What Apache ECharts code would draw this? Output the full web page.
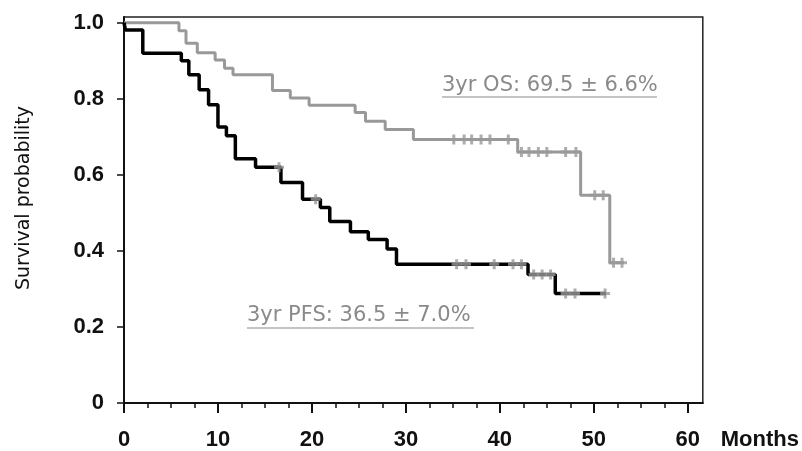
<!DOCTYPE html>
<html>
<head>
<meta charset="utf-8">
<script src="https://cdn.jsdelivr.net/npm/echarts@6/dist/echarts.min.js"></script>
<style>
  html, body { margin: 0; padding: 0; background: #fff; }
  #chart { width: 802px; height: 451px; }
</style>
</head>
<body>
<div id="chart"></div>
<script>
// overall survival (step curve, value holds until next time)
const osTime = [0, 5.85, 6.6, 7.8, 9.7, 10.7, 11.6, 15.8, 17.7, 19.7, 24.6, 25.7, 27.8, 30.8, 41.9, 48.6, 51.7, 53.2];
const osSurv = [1.0, 0.979, 0.946, 0.921, 0.902, 0.880, 0.863, 0.822, 0.802, 0.783, 0.764, 0.741, 0.719, 0.693, 0.660, 0.546, 0.369, 0.369];
const osCensorTime = [35.1, 36.2, 37.0, 38.0, 38.95, 40.9, 42.3, 43.1, 44.1, 45.0, 47.0, 48.1, 50.1, 51.0, 52.1, 53.0];
const osCensorSurv = [0.693, 0.693, 0.693, 0.693, 0.693, 0.693, 0.660, 0.660, 0.660, 0.660, 0.660, 0.660, 0.546, 0.546, 0.369, 0.369];

// progression-free survival
const pfsTime = [0, 0.15, 2.0, 6.1, 6.9, 8.0, 9.0, 10.0, 10.9, 11.85, 14.0, 16.7, 19.0, 20.9, 21.9, 24.1, 26.0, 28.0, 29.0, 43.0, 45.9, 51.3];
const pfsSurv = [1.0, 0.981, 0.920, 0.900, 0.863, 0.824, 0.784, 0.726, 0.703, 0.642, 0.620, 0.580, 0.536, 0.514, 0.477, 0.450, 0.430, 0.405, 0.365, 0.338, 0.288, 0.288];
const pfsCensorTime = [16.5, 20.4, 35.4, 36.4, 39.4, 41.4, 42.3, 43.6, 44.5, 45.4, 47.0, 48.0, 51.2];
const pfsCensorSurv = [0.620, 0.536, 0.365, 0.365, 0.365, 0.365, 0.365, 0.338, 0.338, 0.338, 0.288, 0.288, 0.288];

const xMajorTicks = [0, 10, 20, 30, 40, 50, 60];
const xMinorTicks = [2.5, 5, 7.5, 12.5, 15, 17.5, 22.5, 25, 27.5, 32.5, 35, 37.5, 42.5, 45, 47.5, 52.5, 55, 57.5];
const yTicks = [0, 0.2, 0.4, 0.6, 0.8, 1.0];

const osNote = "3yr OS: 69.5 ± 6.6%";
const pfsNote = "3yr PFS: 36.5 ± 7.0%";

const zip = (a, b) => a.map((v, i) => [v, b[i]]);

const labelFont = "'Liberation Sans', Arial, sans-serif";
const noteFont = "'DejaVu Sans', sans-serif";
// censor mark: small plus
const plusPath = "path://M3.5,0 H6.5 V3.5 H10 V6.5 H6.5 V10 H3.5 V6.5 H0 V3.5 H3.5 Z";

const chart = echarts.init(document.getElementById("chart"), null, { renderer: "canvas" });

const option = {
  backgroundColor: "#fff",
  animation: false,
  grid: {
    left: 124,
    right: 96,
    top: 17,
    bottom: 47,
    show: true,
    borderColor: "#222",
    borderWidth: 1.5,
    backgroundColor: "transparent",
  },
  xAxis: [
    {
      type: "value",
      min: 0,
      max: 61.6,
      name: "Months",
      nameLocation: "end",
      nameGap: 18,
      nameTextStyle: {
        fontFamily: labelFont,
        fontWeight: "bold",
        fontSize: 22,
        color: "#111",
        verticalAlign: "top",
        padding: [26, 0, 0, 0],
      },
      splitLine: { show: false },
      axisLine: { show: true, lineStyle: { color: "#111", width: 2 } },
      axisTick: { show: true, length: 10, customValues: xMajorTicks, lineStyle: { color: "#111", width: 2 } },
      axisLabel: {
        customValues: xMajorTicks,
        margin: 26,
        fontFamily: labelFont,
        fontWeight: "bold",
        fontSize: 22,
        color: "#111",
      },
    },
    {
      type: "value",
      min: 0,
      max: 61.6,
      position: "bottom",
      splitLine: { show: false },
      axisLine: { show: false },
      axisTick: { show: true, length: 5, customValues: xMinorTicks, lineStyle: { color: "#111", width: 1.5 } },
      axisLabel: { show: false },
    },
  ],
  yAxis: {
    type: "value",
    min: 0,
    max: 1.015,
    name: "Survival probability",
    nameLocation: "middle",
    nameGap: 90,
    nameTextStyle: {
      fontFamily: noteFont,
      fontSize: 19,
      color: "#111",
      padding: [0, 0, 0, 24],
    },
    splitLine: { show: false },
    axisLine: { show: true, lineStyle: { color: "#111", width: 2 } },
    axisTick: { show: true, length: 7, customValues: yTicks, lineStyle: { color: "#111", width: 1.5 } },
    axisLabel: {
      customValues: yTicks,
      margin: 20,
      fontFamily: labelFont,
      fontWeight: "bold",
      fontSize: 22,
      color: "#111",
      formatter: (v) => (v === 0 ? "0" : v.toFixed(1)),
    },
  },
  series: [
    {
      name: "OS",
      type: "line",
      step: "end",
      data: zip(osTime, osSurv),
      symbol: "none",
      lineStyle: { color: "#999", width: 3 },
      z: 2,
    },
    {
      name: "PFS",
      type: "line",
      step: "end",
      data: zip(pfsTime, pfsSurv),
      symbol: "none",
      lineStyle: { color: "#000", width: 3.5 },
      z: 3,
    },
    {
      name: "OS censored",
      type: "scatter",
      data: zip(osCensorTime, osCensorSurv),
      symbol: plusPath,
      symbolSize: 10,
      itemStyle: { color: "#999" },
      z: 4,
    },
    {
      name: "PFS censored",
      type: "scatter",
      data: zip(pfsCensorTime, pfsCensorSurv),
      symbol: plusPath,
      symbolSize: 10,
      itemStyle: { color: "#999" },
      z: 4,
    },
  ],
  graphic: [
    {
      type: "text",
      left: 442,
      top: 75,
      style: { text: osNote, font: "21px " + noteFont, fill: "#8a8a8a" },
    },
    {
      type: "line",
      shape: { x1: 442, y1: 97, x2: 657, y2: 97 },
      style: { stroke: "#8a8a8a", lineWidth: 1.2 },
    },
    {
      type: "text",
      left: 247,
      top: 305,
      style: { text: pfsNote, font: "21px " + noteFont, fill: "#8a8a8a" },
    },
    {
      type: "line",
      shape: { x1: 247, y1: 328, x2: 474, y2: 328 },
      style: { stroke: "#8a8a8a", lineWidth: 1.2 },
    },
  ],
};

chart.setOption(option);
window.addEventListener("resize", () => chart.resize());
</script>
</body>
</html>
